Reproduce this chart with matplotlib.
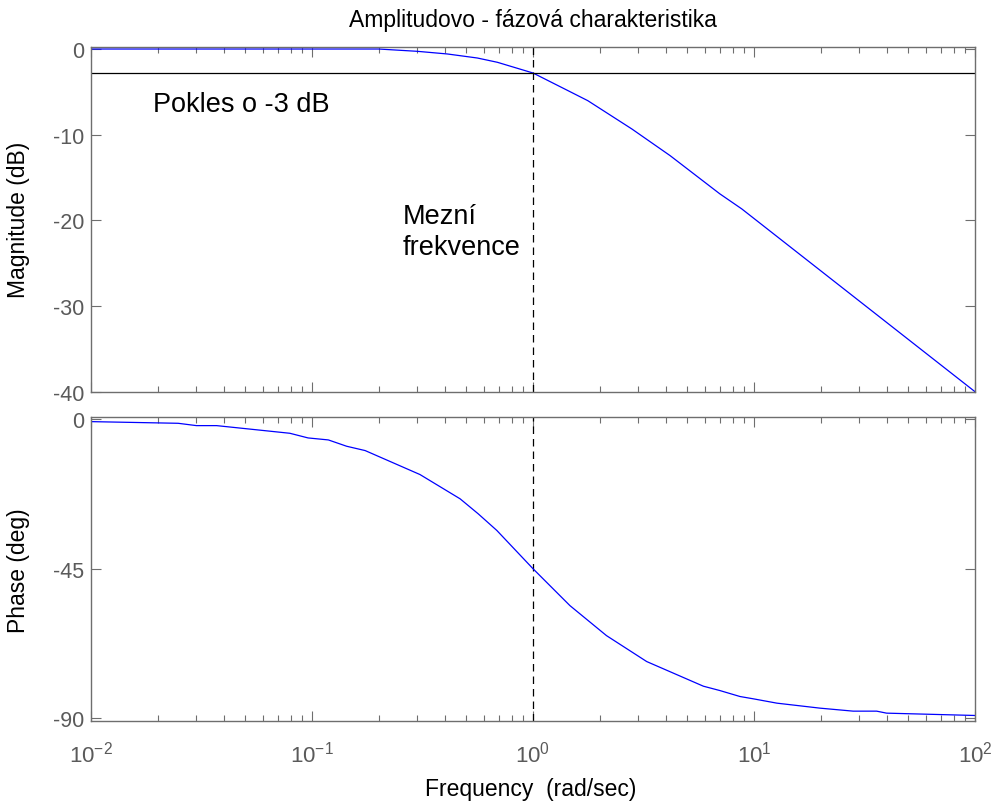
import matplotlib
matplotlib.use("Agg")
import matplotlib.pyplot as plt
from matplotlib.ticker import LogLocator, NullFormatter, FixedLocator

plt.rcParams['font.family'] = ['Liberation Sans', 'DejaVu Sans']
plt.rcParams['mathtext.fontset'] = 'custom'
plt.rcParams['mathtext.rm'] = 'Liberation Sans'
plt.rcParams['mathtext.it'] = 'Liberation Sans'
plt.rcParams['mathtext.bf'] = 'Liberation Sans'
plt.rcParams['axes.unicode_minus'] = False

# ---- data ----
mag_freq = [0.01, 0.2, 0.30, 0.41, 0.56, 0.69, 1.0, 1.44, 1.77, 2.8, 4.17, 7.0, 8.8, 100]
mag_db = [0, 0, -0.27, -0.58, -1.05, -1.55, -2.8, -4.86, -6.03, -9.33, -12.44, -16.9, -18.66, -40.0]

phase_freq = [0.01, 0.0248, 0.030, 0.037, 0.0794, 0.096, 0.1186, 0.1435, 0.174, 0.308,
              0.468, 0.565, 0.686, 1.0, 1.47, 2.15, 3.27, 5.9, 7.0, 8.64, 9.94, 12.7,
              19.9, 28.1, 35.9, 39.8, 100]
phase_deg = [-0.8, -1.3, -2.0, -2.0, -4.3, -5.7, -6.3, -8.2, -9.5, -16.7,
             -24.0, -28.5, -33.5, -45.0, -56.1, -65.1, -72.9, -80.3, -81.6, -83.4, -84.1, -85.4,
             -86.9, -87.8, -87.8, -88.4, -89.1]

cutoff_freq = 1.0
drop_level = -2.75
mag_yticks = [0, -10, -20, -30, -40]
phase_yticks = [0, -45, -90]

title = "Amplitudovo - fázová charakteristika"
xlabel = "Frequency  (rad/sec)"
ylabel_mag = "Magnitude (dB)"
ylabel_phase = "Phase (deg)"
note_drop = "Pokles o -3 dB"
note_cut = "Mezní\nfrekvence"

# ---- figure ----
W, H = 997, 803
fig = plt.figure(figsize=(W / 100, H / 100), dpi=100)
fig.patch.set_facecolor('white')

axL = 91 / W
axW = (975 - 91) / W
ax1 = fig.add_axes([axL, 1 - 392.7 / H, axW, (392.7 - 47.7) / H])
ax2 = fig.add_axes([axL, 1 - 722.3 / H, axW, (722.3 - 418.3) / H])

spine_col = '#6e6e6e'
tick_col = '#5a5a5a'
blue = '#0000ff'

for ax in (ax1, ax2):
    ax.set_xscale('log')
    ax.set_xlim(0.01, 100)
    for s in ax.spines.values():
        s.set_color(spine_col)
        s.set_linewidth(1.0)
    ax.tick_params(which='both', direction='in', top=True, right=True,
                   colors=spine_col, labelcolor=tick_col, labelsize=15.5)
    ax.tick_params(which='major', length=7, width=0.8)
    ax.tick_params(which='minor', length=4.3, width=0.8)
    ax.tick_params(axis='y', which='major', pad=5)
    ax.xaxis.set_major_locator(LogLocator(base=10, numticks=10))
    ax.xaxis.set_minor_locator(LogLocator(base=10, subs=range(2, 10), numticks=20))
    ax.xaxis.set_minor_formatter(NullFormatter())
    ax.axvline(cutoff_freq, color='black', linestyle=(0, (6, 4)), linewidth=0.9)

# magnitude
ax1.plot(mag_freq, mag_db, color=blue, linewidth=0.9)
ax1.axhline(drop_level, color='black', linewidth=0.9)
ax1.set_ylim(-40, 0.27)
ax1.yaxis.set_major_locator(FixedLocator(mag_yticks))
ax1.tick_params(axis='x', which='both', labelbottom=False)
ax1.set_ylabel(ylabel_mag, fontsize=16.5)
ax1.yaxis.set_label_coords(-0.069, 0.5)
ax1.text(0.019, -6.4, note_drop, fontsize=19.5, ha='left', va='center', color='black')
ax1.text(0.258, -21.3, note_cut, fontsize=19.5, ha='left', va='center', color='black',
         linespacing=1.25)

# phase
ax2.plot(phase_freq, phase_deg, color=blue, linewidth=0.9)
ax2.set_ylim(-90.85, 0.5)
ax2.yaxis.set_major_locator(FixedLocator(phase_yticks))
ax2.tick_params(axis='x', which='major', pad=14, labelsize=16)
ax2.set_ylabel(ylabel_phase, fontsize=16.5)
ax2.yaxis.set_label_coords(-0.069, 0.5)
ax2.set_xlabel(xlabel, fontsize=16.5)
ax2.xaxis.set_label_coords(0.497, -0.183)

fig.text(533 / W, 1 - 20 / H, title, fontsize=16.5, ha='center', va='center', color='black')

fig.savefig('out.png', dpi=100, facecolor='white')
